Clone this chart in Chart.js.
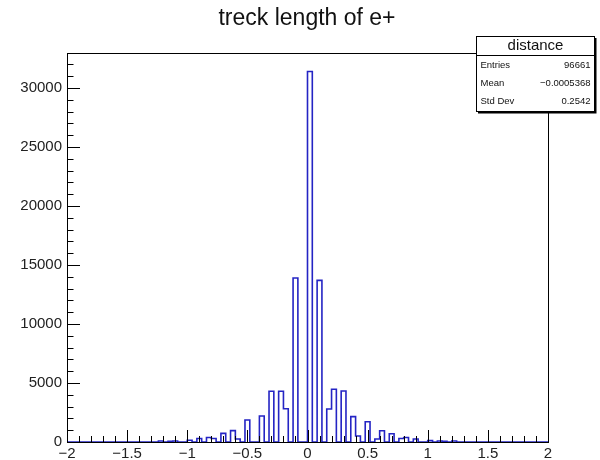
<!DOCTYPE html>
<html>
<head>
<meta charset="utf-8">
<script src="https://cdn.jsdelivr.net/npm/chart.js@4.4.1/dist/chart.umd.min.js"></script>
<style>
  body { margin: 0; background: #fff; }
  #wrap { width: 600px; height: 460px; }
</style>
</head>
<body>
<div id="wrap"><canvas id="histo" width="600" height="460"></canvas></div>
<script>
// histogram binning (ROOT TH1: 100 bins from -2 to 2)
const xMin = -2;
const xMax = 2;
const nBins = 100;

// bin contents, bin 0 .. bin 99
const counts = [
    0, 0, 0, 0, 0, 0, 0, 0, 0, 0,
    0, 0, 0, 0, 0, 0, 0, 0, 0, 80,
    0, 60, 90, 0, 0, 150, 0, 300, 0, 380,
    300, 0, 730, 0, 960, 250, 0, 1860, 0, 0,
    2200, 0, 4300, 0, 4300, 2820, 0, 13900, 0, 0,
    31400, 0, 13700, 0, 2800, 4470, 0, 4320, 0, 2150,
    510, 0, 1720, 0, 250, 950, 0, 700, 0, 300,
    380, 0, 250, 0, 0, 120, 0, 90, 60, 0,
    80, 0, 0, 0, 0, 0, 0, 0, 0, 0,
    0, 0, 0, 0, 0, 0, 0, 0, 0, 0
];

const xTickValues = [-2, -1.5, -1, -0.5, 0, 0.5, 1, 1.5, 2];
const yTickValues = [0, 5000, 10000, 15000, 20000, 25000, 30000];

const titleText = "treck length of e+";
const statsName = "distance";
const statsLabels = ["Entries", "Mean", "Std Dev"];
const statsValues = ["96661", "\u22120.0005368", "0.2542"];

// points at the low edge of each bin, plus the upper edge of the last one
const binWidth = (xMax - xMin) / nBins;
const points = counts.map((c, i) => ({ x: xMin + i * binWidth, y: c }));
points.push({ x: xMax, y: counts[nBins - 1] });

const yMax = Math.max(...counts) * 1.05;

const fontFam = "'Liberation Sans', Arial, Helvetica, sans-serif";

// ROOT style: frame, inward ticks, title and stats box
const rootLook = {
    id: 'rootLook',
    afterDatasetsDraw(chart) {
        const ctx = chart.ctx;
        const a = chart.chartArea;
        const xs = chart.scales.x;
        const ys = chart.scales.y;
        ctx.save();
        ctx.strokeStyle = '#000';
        ctx.lineWidth = 1;
        // x ticks every 0.1, long at 0.5
        for (let k = 0; k <= 40; k++) {
            const v = xMin + k * 0.1;
            const px = Math.round(xs.getPixelForValue(v)) + 0.5;
            const len = (k % 5 === 0) ? 12 : 6;
            ctx.beginPath();
            ctx.moveTo(px, a.bottom);
            ctx.lineTo(px, a.bottom - len);
            ctx.stroke();
        }
        // y ticks every 1000, long at 5000
        for (let v = 0; v <= yMax; v += 1000) {
            const py = Math.round(ys.getPixelForValue(v)) + 0.5;
            const len = (v % 5000 === 0) ? 13 : 6.5;
            ctx.beginPath();
            ctx.moveTo(a.left, py);
            ctx.lineTo(a.left + len, py);
            ctx.stroke();
        }
        // frame
        ctx.strokeRect(Math.round(a.left) + 0.5, Math.round(a.top) + 0.5,
            Math.round(a.right - a.left), Math.round(a.bottom - a.top));
        ctx.restore();
    },
    afterDraw(chart) {
        const ctx = chart.ctx;
        ctx.save();
        // title
        ctx.fillStyle = '#111';
        ctx.font = '23px ' + fontFam;
        ctx.textAlign = 'center';
        ctx.textBaseline = 'alphabetic';
        ctx.fillText(titleText, 307, 25);

        // stats box
        const bx = 476.5, by = 36.5, bw = 118, bh = 75;
        ctx.fillStyle = '#000';
        ctx.fillRect(bx + 1.5, by + 1.5, bw + 0.5, bh + 0.5);
        ctx.fillStyle = '#fff';
        ctx.fillRect(bx, by, bw, bh);
        ctx.strokeStyle = '#000';
        ctx.lineWidth = 1;
        ctx.strokeRect(bx, by, bw, bh);
        ctx.beginPath();
        ctx.moveTo(bx, 55.5);
        ctx.lineTo(bx + bw, 55.5);
        ctx.stroke();

        ctx.fillStyle = '#111';
        ctx.font = '15px ' + fontFam;
        ctx.textAlign = 'center';
        ctx.textBaseline = 'middle';
        ctx.fillText(statsName, bx + bw / 2, 46);

        ctx.font = '9.5px ' + fontFam;
        const rowY = [65, 83, 101];
        statsLabels.forEach((lab, i) => {
            ctx.textAlign = 'left';
            ctx.fillText(lab, bx + 4, rowY[i]);
            ctx.textAlign = 'right';
            ctx.fillText(statsValues[i], bx + bw - 4, rowY[i]);
        });
        ctx.restore();
    }
};

const ctx = document.getElementById('histo').getContext('2d');
new Chart(ctx, {
    type: 'line',
    data: {
        datasets: [{
            label: statsName,
            data: points,
            stepped: true,
            borderColor: '#2424c4',
            borderWidth: 1.6,
            pointRadius: 0,
            fill: false,
            tension: 0
        }]
    },
    options: {
        responsive: false,
        animation: false,
        layout: { padding: { top: 53, right: 52, left: 0, bottom: 0 } },
        plugins: {
            legend: { display: false },
            title: { display: false },
            tooltip: { enabled: false }
        },
        scales: {
            x: {
                type: 'linear',
                min: xMin,
                max: xMax,
                grid: { display: false, drawTicks: false },
                border: { display: false },
                afterBuildTicks: s => { s.ticks = xTickValues.map(v => ({ value: v })); },
                ticks: {
                    autoSkip: false,
                    maxRotation: 0,
                    padding: 3,
                    color: '#222',
                    font: { family: fontFam, size: 15 },
                    callback: v => String(v).replace('-', '\u2212')
                },
                afterFit: s => { s.height = 18; }
            },
            y: {
                type: 'linear',
                min: 0,
                max: yMax,
                grid: { display: false, drawTicks: false },
                border: { display: false },
                afterBuildTicks: s => { s.ticks = yTickValues.map(v => ({ value: v })); },
                ticks: {
                    autoSkip: false,
                    padding: 5,
                    color: '#222',
                    font: { family: fontFam, size: 15 },
                    callback: v => String(v)
                },
                afterFit: s => { s.width = 67; }
            }
        }
    },
    plugins: [rootLook]
});
</script>
</body>
</html>
